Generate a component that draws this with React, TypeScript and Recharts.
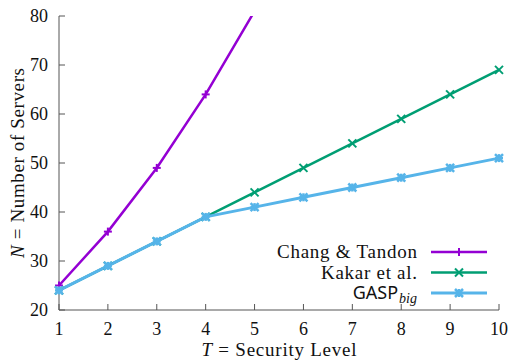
import React from "react";
import { LineChart, Line, XAxis, YAxis, Legend, Label } from "recharts";

// security level T
const levels = [1, 2, 3, 4, 5, 6, 7, 8, 9, 10];
// number of servers N
const changTandon = [25, 36, 49, 64, 81, null, null, null, null, null];
const kakar = [24, 29, 34, 39, 44, 49, 54, 59, 64, 69];
const gaspBig = [24, 29, 34, 39, 41, 43, 45, 47, 49, 51];
const yTicks = [20, 30, 40, 50, 60, 70, 80];

const PURPLE = "#9400d3";
const GREEN = "#009e73";
const BLUE = "#56b4e9";
const FRAME = "#555";
const SERIF = "'Liberation Serif', 'Times New Roman', 'DejaVu Serif', serif";
const serifStyle = { fontFamily: SERIF };

const data = levels.map((t, i) => ({
  t,
  chang: changTandon[i],
  kakar: kakar[i],
  gasp: gaspBig[i],
}));

function marker(kind: string, x: number, y: number, color: string, w: number) {
  const s = 4;
  const plus = [
    <line key="h" x1={x - s} y1={y} x2={x + s} y2={y} stroke={color} strokeWidth={w} />,
    <line key="v" x1={x} y1={y - s} x2={x} y2={y + s} stroke={color} strokeWidth={w} />,
  ];
  const cross = [
    <line key="a" x1={x - s} y1={y - s} x2={x + s} y2={y + s} stroke={color} strokeWidth={w} />,
    <line key="b" x1={x - s} y1={y + s} x2={x + s} y2={y - s} stroke={color} strokeWidth={w} />,
  ];
  if (kind === "plus") return plus;
  if (kind === "cross") return cross;
  return [...plus, ...cross];
}

const makeDot = (kind: string, color: string, w: number) => (props: any) => {
  const { cx, cy, value, index } = props;
  if (value == null || value > 80 || cx == null || cy == null) return <g key={`d-${kind}-${index}`} />;
  return <g key={`d-${kind}-${index}`}>{marker(kind, cx, cy, color, w)}</g>;
};

const series = [
  { key: "chang", name: "Chang & Tandon", color: PURPLE, kind: "plus", width: 2.5, len: 140 },
  { key: "kakar", name: "Kakar et al.", color: GREEN, kind: "cross", width: 2.5, len: 96 },
  { key: "gasp", name: "GASP", color: BLUE, kind: "star", width: 3, len: 67 },
];

const BottomTick = (props: any) => {
  const { x, y, payload } = props;
  return (
    <g>
      <line x1={x} y1={y} x2={x} y2={y - 6} stroke={FRAME} />
      <text x={x} y={y + 25} textAnchor="middle" style={serifStyle} fontSize={18} fill="#111">
        {payload.value}
      </text>
    </g>
  );
};
const TopTick = (props: any) => {
  const { x, y } = props;
  return <line x1={x} y1={y} x2={x} y2={y + 6} stroke={FRAME} />;
};
const LeftTick = (props: any) => {
  const { x, y, payload } = props;
  return (
    <g>
      <line x1={x} y1={y} x2={x + 6} y2={y} stroke={FRAME} />
      <text x={x - 11} y={y + 6} textAnchor="end" style={serifStyle} fontSize={18} fill="#111">
        {payload.value}
      </text>
    </g>
  );
};
const RightTick = (props: any) => {
  const { x, y } = props;
  return <line x1={x} y1={y} x2={x - 6} y2={y} stroke={FRAME} />;
};

const YTitle = (props: any) => {
  const vb = props.viewBox;
  const cy = vb.y + vb.height / 2;
  const cx = 17;
  return (
    <text
      x={cx}
      y={cy}
      transform={`rotate(-90, ${cx}, ${cy})`}
      textAnchor="middle"
      dominantBaseline="central"
      style={serifStyle}
      fontSize={19}
      fill="#111"
      textLength={190}
      lengthAdjust="spacing"
    >
      <tspan fontStyle="italic">N</tspan> = Number of Servers
    </text>
  );
};
const XTitle = (props: any) => {
  const vb = props.viewBox;
  const cx = vb.x + vb.width / 2;
  return (
    <text
      x={cx}
      y={356}
      textAnchor="middle"
      style={serifStyle}
      fontSize={19}
      fill="#111"
      textLength={155}
      lengthAdjust="spacing"
    >
      <tspan fontStyle="italic">T</tspan> = Security Level
    </text>
  );
};

const LegendBox = () => (
  <svg width={240} height={72} style={{ display: "block" }}>
    {series.map((s, i) => {
      const y = 14 + i * 20.5;
      return (
        <g key={s.key}>
          {s.key === "gasp" ? (
            <text x={167} y={y + 6} textAnchor="end" fill="#111">
              <tspan style={{ fontFamily: "'Noto Sans', sans-serif" }} fontSize={18}>GASP</tspan>
              <tspan style={serifStyle} fontStyle="italic" fontSize={14} dx={1} dy={4}>big</tspan>
            </text>
          ) : (
            <text
              x={167 - s.len}
              y={y + 6}
              style={serifStyle}
              fontSize={19}
              fill="#111"
              textLength={s.len}
              lengthAdjust="spacing"
            >
              {s.name}
            </text>
          )}
          <line x1={181} y1={y} x2={237} y2={y} stroke={s.color} strokeWidth={s.width} />
          {marker(s.kind, 209, y, s.color, s.width - 0.5)}
        </g>
      );
    })}
  </svg>
);

export default function App() {
  return (
    <div style={{ position: "absolute", left: 0, top: 0, width: 511, height: 361, background: "#fff" }}>
      <LineChart width={511} height={361} data={data} margin={{ top: 16, right: 12, left: 0, bottom: 0 }}>
        <XAxis
          dataKey="t"
          type="number"
          domain={[1, 10]}
          ticks={levels}
          height={51}
          tickSize={0}
          tickMargin={0}
          tickLine={false}
          axisLine={{ stroke: FRAME }}
          tick={<BottomTick />}
          interval={0}
        >
          <Label content={<XTitle />} />
        </XAxis>
        <XAxis
          xAxisId="top"
          orientation="top"
          dataKey="t"
          type="number"
          domain={[1, 10]}
          ticks={levels}
          height={0}
          tickSize={0}
          tickMargin={0}
          tickLine={false}
          axisLine={{ stroke: FRAME }}
          tick={<TopTick />}
          interval={0}
        />
        <YAxis
          type="number"
          domain={[20, 80]}
          ticks={yTicks}
          allowDataOverflow
          width={59}
          tickSize={0}
          tickMargin={0}
          tickLine={false}
          axisLine={{ stroke: FRAME }}
          tick={<LeftTick />}
          interval={0}
        >
          <Label content={<YTitle />} />
        </YAxis>
        <YAxis
          yAxisId="right"
          orientation="right"
          type="number"
          domain={[20, 80]}
          ticks={yTicks}
          allowDataOverflow
          width={0}
          tickSize={0}
          tickMargin={0}
          tickLine={false}
          axisLine={{ stroke: FRAME }}
          tick={<RightTick />}
          interval={0}
        />
        {series.map((s) => (
          <Line
            key={s.key}
            dataKey={s.key}
            name={s.name}
            stroke={s.color}
            strokeWidth={s.width}
            dot={makeDot(s.kind, s.color, s.width - 0.5)}
            activeDot={false}
            isAnimationActive={false}
            connectNulls={false}
          />
        ))}
        <Legend
          layout="vertical"
          align="center"
          verticalAlign="middle"
          content={<LegendBox />}
          wrapperStyle={{ position: "absolute", left: 250, top: 238, width: 240, height: 72 }}
        />
      </LineChart>
    </div>
  );
}
